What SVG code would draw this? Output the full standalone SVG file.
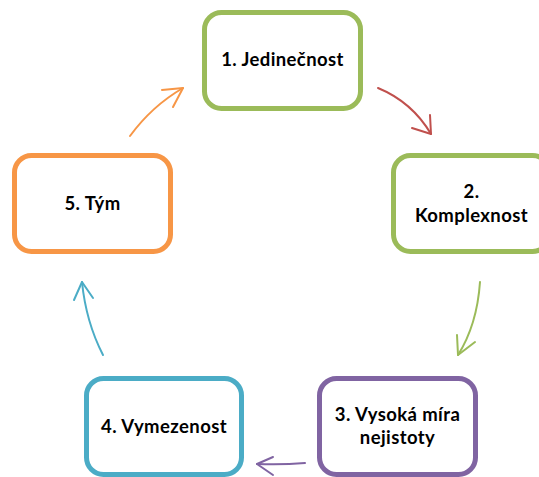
<svg xmlns="http://www.w3.org/2000/svg" width="539" height="477" viewBox="0 0 539 477">
  <style>
    .box { fill: #FFFFFF; stroke-width: 5; }
    .label { font-family: Lato, "Open Sans", "Liberation Sans", sans-serif; font-weight: bold; font-size: 18.5px; letter-spacing: 0.4px; fill: #000000; text-anchor: middle; }
    .conn { fill: none; stroke-width: 2; stroke-linecap: round; stroke-linejoin: round; }
  </style>
  <rect width="539" height="477" fill="#FFFFFF"/>

  <!-- connectors: curved arrows running clockwise round the cycle -->
  <g id="connectors">
    <g>
      <path class="conn" stroke="#C0504D" d="M378,88 Q412,102 431,134"/>
      <polyline class="conn" stroke="#C0504D" points="412,128 431,134 430,115"/>
    </g>
    <g>
      <path class="conn" stroke="#9BBB59" d="M480,282 Q477,325 458,355"/>
      <polyline class="conn" stroke="#9BBB59" points="457,335 458,355 475,342"/>
    </g>
    <g>
      <path class="conn" stroke="#8064A2" d="M305,463 Q282,465 257,464"/>
      <polyline class="conn" stroke="#8064A2" points="273,457 257,464 273,475"/>
    </g>
    <g>
      <path class="conn" stroke="#4BACC6" d="M103,355 Q86,322 82,282"/>
      <polyline class="conn" stroke="#4BACC6" points="74,300 82,282 93,298"/>
    </g>
    <g>
      <path class="conn" stroke="#F79646" d="M130,136 Q152,106 183,88"/>
      <polyline class="conn" stroke="#F79646" points="162,90 183,88 173,107"/>
    </g>
  </g>

  <!-- nodes -->
  <g id="node1">
    <rect class="box" stroke="#9BBB59" x="204.5" y="12.5" width="156" height="96" rx="17"/>
    <text class="label" x="282.5" y="66">1. Jedinečnost</text>
  </g>
  <g id="node2">
    <rect class="box" stroke="#9BBB59" x="393.5" y="155.5" width="156" height="96" rx="17"/>
    <text class="label" x="471.5" y="198">2.</text>
    <text class="label" x="471.5" y="222">Komplexnost</text>
  </g>
  <g id="node3">
    <rect class="box" stroke="#8064A2" x="319.5" y="378.5" width="156" height="96" rx="17"/>
    <text class="label" x="397.5" y="421">3. Vysoká míra</text>
    <text class="label" x="397.5" y="444">nejistoty</text>
  </g>
  <g id="node4">
    <rect class="box" stroke="#4BACC6" x="86.5" y="378.5" width="155" height="96" rx="17"/>
    <text class="label" x="164" y="433">4. Vymezenost</text>
  </g>
  <g id="node5">
    <rect class="box" stroke="#F79646" x="14.5" y="155.5" width="156" height="96" rx="17"/>
    <text class="label" x="92.5" y="210">5. Tým</text>
  </g>
</svg>
